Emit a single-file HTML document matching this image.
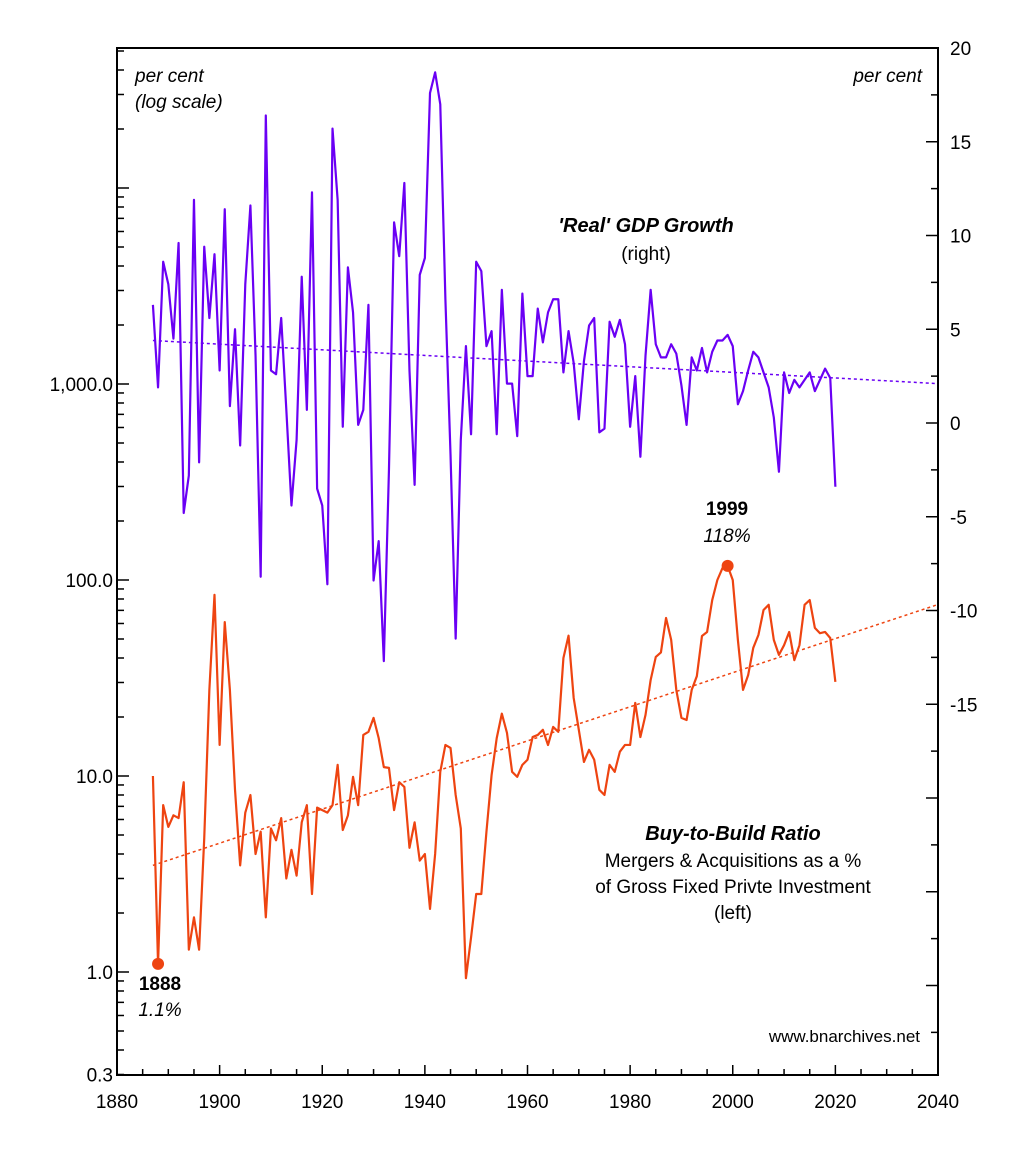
<!DOCTYPE html>
<html><head><meta charset="utf-8"><style>
html,body{margin:0;padding:0;background:#fff;}
svg text{font-family:"Liberation Sans",sans-serif;}
</style></head><body>
<svg id="chart" width="1035" height="1162" viewBox="0 0 1035 1162" xmlns="http://www.w3.org/2000/svg">
<rect width="1035" height="1162" fill="#fff"/>
<g id="plot"></g>
<rect x="117" y="48" width="821" height="1027" fill="none" stroke="#000" stroke-width="2"/>
<text x="135" y="82" font-size="19" font-style="italic">per cent</text>
<text x="135" y="108" font-size="19" font-style="italic">(log scale)</text>
<text x="922" y="82" font-size="19" font-style="italic" text-anchor="end">per cent</text>
<text x="646" y="232" font-size="20" font-weight="bold" font-style="italic" text-anchor="middle">'Real' GDP Growth</text>
<text x="646" y="260" font-size="19" text-anchor="middle">(right)</text>
<text x="733" y="840" font-size="20" font-weight="bold" font-style="italic" text-anchor="middle">Buy-to-Build Ratio</text>
<text x="733" y="867" font-size="19" text-anchor="middle">Mergers &amp; Acquisitions as a %</text>
<text x="733" y="893" font-size="19" text-anchor="middle">of Gross Fixed Privte Investment</text>
<text x="733" y="919" font-size="19" text-anchor="middle">(left)</text>
<text x="727" y="515" font-size="19" font-weight="bold" text-anchor="middle">1999</text>
<text x="727" y="542" font-size="19" font-style="italic" text-anchor="middle">118%</text>
<text x="160" y="990" font-size="19" font-weight="bold" text-anchor="middle">1888</text>
<text x="160" y="1016" font-size="19" font-style="italic" text-anchor="middle">1.1%</text>
<text x="920" y="1042" font-size="17" text-anchor="end">www.bnarchives.net</text>
</svg>
<script>
const years = [];
for (let y = 1887; y <= 2020; y++) years.push(y);
const gdpGrowth = [6.3,1.9,8.6,7.4,4.5,9.6,-4.8,-2.8,11.9,-2.1,9.4,5.6,9.0,2.8,11.4,0.9,5.0,-1.2,7.4,11.6,3.6,-8.2,16.4,2.8,2.6,5.6,0.7,-4.4,-0.9,7.8,0.7,12.3,-3.5,-4.4,-8.6,15.7,11.9,-0.2,8.3,5.9,-0.1,0.7,6.3,-8.4,-6.3,-12.7,-2.5,10.7,8.9,12.8,2.8,-3.3,7.9,8.8,17.6,18.7,17.0,6.6,-1.7,-11.5,-0.9,4.1,-0.6,8.6,8.1,4.1,4.9,-0.6,7.1,2.1,2.1,-0.7,6.9,2.5,2.5,6.1,4.3,5.9,6.6,6.6,2.7,4.9,3.2,0.2,3.3,5.2,5.6,-0.5,-0.3,5.4,4.6,5.5,4.2,-0.2,2.5,-1.8,3.6,7.1,4.2,3.5,3.5,4.2,3.7,2.0,-0.1,3.5,2.8,4.0,2.7,3.8,4.4,4.4,4.7,4.1,1.0,1.7,2.8,3.8,3.5,2.7,1.9,0.3,-2.6,2.7,1.6,2.3,1.9,2.3,2.7,1.7,2.3,2.9,2.4,-3.4];
const buyToBuild = [10,1.1,7.1,5.5,6.3,6.1,9.3,1.3,1.9,1.3,4.8,27.5,84,14.4,61,27.5,8.5,3.5,6.5,8.0,4.0,5.2,1.9,5.4,4.7,6.1,3.0,4.2,3.1,5.8,7.1,2.5,6.9,6.7,6.5,7.1,11.4,5.3,6.3,9.9,7.1,16.2,16.8,19.8,15.6,11.1,11.0,6.7,9.3,8.8,4.3,5.8,3.7,4.0,2.1,4.0,10.5,14.4,13.9,8.0,5.4,0.93,1.5,2.5,2.5,5.2,10.1,15.6,20.8,16.6,10.5,9.9,11.4,12.1,15.8,16.2,17.2,14.4,17.8,16.8,40,52,25,17.2,11.8,13.6,12.1,8.5,8.0,11.4,10.5,13.3,14.4,14.4,23.6,15.8,20.5,30.9,40.5,42.7,64,49.5,27.5,19.8,19.3,27.5,32.3,51.8,54.3,79,100,115,118,100,49.5,27.5,32.7,45.1,52.4,70.3,74.7,49.5,41.5,46.5,54.3,39,46.5,74.7,79,57,53.5,54.3,50.6,30.2];
const gdpTrend = [[1887,4.4],[2040,2.1]];
const ratioTrend = [[1887,3.5],[2040,75]];
const xTickLabels = ['1880','1900','1920','1940','1960','1980','2000','2020','2040'];
const leftTickLabels = ['0.3','1.0','10.0','100.0','1,000.0'];
const leftTickValues = [0.3,1,10,100,1000];
const rightTickValues = [20,15,10,5,0,-5,-10,-15];

const X0=117,X1=938,Y0=48,Y1=1075;
const xs = yr => X0 + (yr-1880)*(X1-X0)/160;
const yl = v => 972 - 196*Math.log10(v);
const yr_ = v => 423 - v*18.75;
const NS='http://www.w3.org/2000/svg';
const g=document.getElementById('plot');
function mk(t,a){const e=document.createElementNS(NS,t);for(const k in a)e.setAttribute(k,a[k]);g.appendChild(e);return e;}

// x ticks
for(let yr=1880;yr<=2040;yr+=5){
  const major = yr%20===0;
  const t=mk('line',{x1:xs(yr),x2:xs(yr),y1:Y1,y2:Y1-(major?10:6),stroke:'#000','stroke-width':1.5});
  
  
}
xTickLabels.forEach(l=>{
  const t=mk('text',{x:xs(+l),y:1108,'font-size':19,'text-anchor':'middle'});
  t.textContent=l;
  
  
});
// left log ticks
for(let d=-1;d<=4;d++){
  for(let m=1;m<=9;m++){
    const v=m*Math.pow(10,d);
    const y=yl(v);
    if(y<Y0||y>Y1)continue;
    const t=mk('line',{x1:X0,x2:X0+(m===1?12:7),y1:y,y2:y,stroke:'#000','stroke-width':1.5});
    
    
  }
}
leftTickValues.forEach((v,i)=>{
  const t=mk('text',{x:X0-4,y:yl(v)+7,'font-size':19,'text-anchor':'end'});
  t.textContent=leftTickLabels[i];
  
  
});
// right ticks
for(let v=20;v>=-34;v-=2.5){
  const major=v%5===0;
  const t=mk('line',{x1:X1,x2:X1-(major?12:7),y1:yr_(v),y2:yr_(v),stroke:'#000','stroke-width':1.5});
  
  
}
rightTickValues.forEach(v=>{
  const t=mk('text',{x:X1+12,y:yr_(v)+7,'font-size':19});
  t.textContent=String(v);
  
  
});
// trends
const gt=mk('line',{x1:xs(gdpTrend[0][0]),y1:yr_(gdpTrend[0][1]),x2:xs(gdpTrend[1][0]),y2:yr_(gdpTrend[1][1]),stroke:'#6a00f4','stroke-width':1.5,'stroke-dasharray':'3,3'});


const rt=mk('line',{x1:xs(ratioTrend[0][0]),y1:yl(ratioTrend[0][1]),x2:xs(ratioTrend[1][0]),y2:yl(ratioTrend[1][1]),stroke:'#ee4411','stroke-width':1.5,'stroke-dasharray':'3,3'});


// series
const gp=mk('polyline',{points:years.map((y,i)=>xs(y)+','+yr_(gdpGrowth[i])).join(' '),fill:'none',stroke:'#6a00f4','stroke-width':2.2,'stroke-linejoin':'round'});


const bp=mk('polyline',{points:years.map((y,i)=>xs(y)+','+yl(buyToBuild[i])).join(' '),fill:'none',stroke:'#ee4411','stroke-width':2.2,'stroke-linejoin':'round'});


// markers
const i1=years.indexOf(1888), i2=years.indexOf(1999);
const m1=mk('circle',{cx:xs(1888),cy:yl(buyToBuild[i1]),r:6,fill:'#ee4411'});


const m2=mk('circle',{cx:xs(1999),cy:yl(buyToBuild[i2]),r:6,fill:'#ee4411'});


</script>
</body></html>
